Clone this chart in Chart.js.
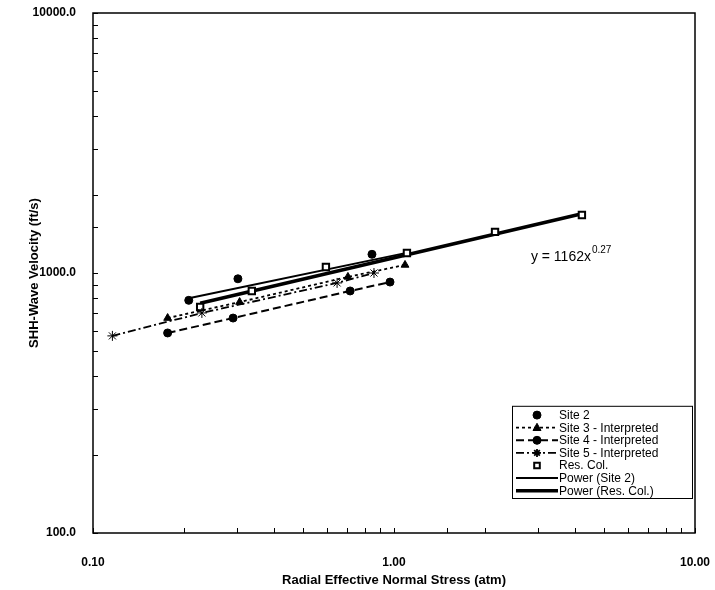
<!DOCTYPE html>
<html>
<head>
<meta charset="utf-8">
<script src="https://cdn.jsdelivr.net/npm/chart.js@4.4.1/dist/chart.umd.min.js"></script>
<style>
    html, body { margin: 0; padding: 0; background: #fff; }
    #wrap { width: 715px; height: 590px; }
</style>
</head>
<body>
<div id="wrap"><canvas id="chart" width="715" height="590"></canvas></div>
<script>
// values (stress in atm, velocity in ft/s)
const site2X = [0.208, 0.303, 0.845];
const site2Y = [785, 950, 1180];

const site3X = [0.177, 0.307, 0.703, 1.088];
const site3Y = [671, 773, 966, 1074];

const site4X = [0.177, 0.292, 0.715, 0.970];
const site4Y = [588, 671, 853, 923];

const site5X = [0.116, 0.230, 0.647, 0.858];
const site5Y = [573, 702, 916, 1000];

const resColX = [0.227, 0.337, 0.594, 1.104, 2.166, 4.21];
const resColY = [740, 853, 1055, 1194, 1439, 1671];

// trend line end points
const powerSite2X = [0.208, 1.10];
const powerSite2Y = [800, 1195];
const powerResColX = [0.227, 4.21];
const powerResColY = [765, 1690];

const xTickLabels = { 0.1: "0.10", 1: "1.00", 10: "10.00" };
const yTickLabels = { 100: "100.0", 1000: "1000.0", 10000: "10000.0" };

const equationText = "y = 1162x";
const equationExp = "0.27";
const equationAt = { x: 2.85, y: 1150 };

const FONT = '"Liberation Sans", Arial, sans-serif';

function toPoints(xs, ys) {
    return xs.map((x, i) => ({ x: x, y: ys[i] }));
}

function markerSet(style, radius, filled) {
    return {
        pointStyle: style,
        pointRadius: radius,
        pointHoverRadius: radius,
        pointBackgroundColor: filled ? "#000" : "#fff",
        pointBorderColor: "#000",
        pointBorderWidth: filled ? 1 : 2
    };
}

const datasets = [
    { label: "Site 2", data: toPoints(site2X, site2Y), showLine: false, ...markerSet("circle", 4, true) },
    { label: "Site 3 - Interpreted", data: toPoints(site3X, site3Y), showLine: true, borderColor: "#000", borderWidth: 1.8, borderDash: [3, 3], ...markerSet("triangle", 4.5, true) },
    { label: "Site 4 - Interpreted", data: toPoints(site4X, site4Y), showLine: true, borderColor: "#000", borderWidth: 2, borderDash: [8, 4], ...markerSet("circle", 4, true) },
    { label: "Site 5 - Interpreted", data: toPoints(site5X, site5Y), showLine: true, borderColor: "#000", borderWidth: 1.8, borderDash: [8, 3, 2, 3], ...markerSet("star", 5, true) },
    { label: "Res. Col.", data: toPoints(resColX, resColY), showLine: false, ...markerSet("rect", 4.5, false) },
    { label: "Power (Site 2)", data: toPoints(powerSite2X, powerSite2Y), showLine: true, borderColor: "#000", borderWidth: 2, pointRadius: 0 },
    { label: "Power (Res. Col.)", data: toPoints(powerResColX, powerResColY), showLine: true, borderColor: "#000", borderWidth: 3.5, pointRadius: 0 }
];
// markers above the trend lines
datasets.forEach((d, i) => { d.order = i < 5 ? 0 : 1; });

function isMajor(v) {
    const l = Math.log10(v);
    return Math.abs(l - Math.round(l)) < 1e-9;
}

function drawMarker(ctx, style, x, y, r, filled) {
    ctx.save();
    ctx.setLineDash([]);
    ctx.fillStyle = filled ? "#000" : "#fff";
    ctx.strokeStyle = "#000";
    ctx.lineWidth = filled ? 1 : 2;
    ctx.beginPath();
    if (style === "circle") {
        ctx.arc(x, y, r, 0, Math.PI * 2);
        ctx.fill(); ctx.stroke();
    } else if (style === "triangle") {
        ctx.moveTo(x, y - r * 1.1);
        ctx.lineTo(x + r, y + r * 0.7);
        ctx.lineTo(x - r, y + r * 0.7);
        ctx.closePath();
        ctx.fill(); ctx.stroke();
    } else if (style === "rect") {
        ctx.rect(x - r * 0.7, y - r * 0.7, r * 1.4, r * 1.4);
        ctx.fill(); ctx.stroke();
    } else if (style === "star") {
        ctx.lineWidth = 1.8;
        for (let k = 0; k < 4; k++) {
            const a = k * Math.PI / 4;
            ctx.moveTo(x - Math.cos(a) * r, y - Math.sin(a) * r);
            ctx.lineTo(x + Math.cos(a) * r, y + Math.sin(a) * r);
        }
        ctx.stroke();
    }
    ctx.restore();
}

const decorations = {
    id: "decorations",
    afterDraw(chart) {
        const ctx = chart.ctx;
        const area = chart.chartArea;
        const xs = chart.scales.x;
        const ys = chart.scales.y;

        ctx.save();
        // frame
        ctx.strokeStyle = "#000";
        ctx.lineWidth = 1.5;
        ctx.strokeRect(area.left, area.top, area.right - area.left, area.bottom - area.top);

        // inside tick marks
        ctx.lineWidth = 1;
        ctx.beginPath();
        xs.ticks.forEach(t => {
            const px = Math.round(xs.getPixelForValue(t.value)) + 0.5;
            ctx.moveTo(px, area.bottom);
            ctx.lineTo(px, area.bottom - 5);
        });
        ys.ticks.forEach(t => {
            const py = Math.round(ys.getPixelForValue(t.value)) + 0.5;
            ctx.moveTo(area.left, py);
            ctx.lineTo(area.left + 5, py);
        });
        ctx.stroke();

        // trend equation
        const ex = xs.getPixelForValue(equationAt.x);
        const ey = ys.getPixelForValue(equationAt.y);
        ctx.fillStyle = "#000";
        ctx.textBaseline = "middle";
        ctx.textAlign = "left";
        ctx.font = "14px " + FONT;
        ctx.fillText(equationText, ex, ey);
        const w = ctx.measureText(equationText).width;
        ctx.font = "10px " + FONT;
        ctx.fillText(equationExp, ex + w + 1, ey - 7);

        // legend box inside the plot, lower right
        const rowH = 12.6;
        const boxW = 180;
        const boxH = rowH * chart.data.datasets.length + 4;
        const bx = area.right - 183;
        const by = area.bottom - 35 - boxH;
        ctx.fillStyle = "#fff";
        ctx.fillRect(bx, by, boxW, boxH);
        ctx.lineWidth = 1;
        ctx.strokeStyle = "#000";
        ctx.strokeRect(bx + 0.5, by + 0.5, boxW, boxH);

        chart.data.datasets.forEach((d, i) => {
            const cy = by + 3 + rowH * i + rowH / 2;
            const x0 = bx + 4;
            const x1 = bx + 46;
            if (d.showLine) {
                ctx.save();
                ctx.strokeStyle = "#000";
                ctx.lineWidth = d.borderWidth;
                ctx.setLineDash(d.borderDash || []);
                ctx.beginPath();
                ctx.moveTo(x0, cy);
                ctx.lineTo(x1, cy);
                ctx.stroke();
                ctx.restore();
            }
            if (d.pointRadius > 0) {
                drawMarker(ctx, d.pointStyle, (x0 + x1) / 2, cy, Math.min(d.pointRadius, 4), d.pointBackgroundColor === "#000");
            }
            ctx.fillStyle = "#000";
            ctx.font = "12px " + FONT;
            ctx.textAlign = "left";
            ctx.fillText(d.label, x1 + 1, cy + 0.5);
        });
        ctx.restore();
    }
};

new Chart(document.getElementById("chart"), {
    type: "scatter",
    data: { datasets: datasets },
    plugins: [decorations],
    options: {
        responsive: false,
        animation: false,
        devicePixelRatio: 1,
        layout: { padding: { top: 13, right: 20, left: 0, bottom: 0 } },
        plugins: {
            legend: { display: false },
            tooltip: { enabled: false }
        },
        scales: {
            x: {
                type: "logarithmic",
                position: "bottom",
                min: 0.1,
                max: 10,
                grid: { display: false },
                border: { display: false },
                ticks: {
                    autoSkip: false,
                    maxRotation: 0,
                    padding: 14,
                    color: "#000",
                    font: { family: FONT, size: 12, weight: "bold" },
                    callback: v => isMajor(v) ? (xTickLabels[Math.round(v * 10) / 10] || "") : ""
                },
                title: {
                    display: true,
                    text: "Radial Effective Normal Stress (atm)",
                    color: "#000",
                    font: { family: FONT, size: 13, weight: "bold" },
                    padding: { top: 0, bottom: 2 }
                },
                afterFit: s => { s.height = 57; s.paddingLeft = 0; s.paddingRight = 0; }
            },
            y: {
                type: "logarithmic",
                min: 100,
                max: 10000,
                grid: { display: false },
                border: { display: false },
                ticks: {
                    autoSkip: false,
                    padding: 9,
                    color: "#000",
                    font: { family: FONT, size: 12, weight: "bold" },
                    callback: v => isMajor(v) ? (yTickLabels[Math.round(v)] || "") : ""
                },
                title: {
                    display: true,
                    text: "SHH-Wave Velocity (ft/s)",
                    color: "#000",
                    font: { family: FONT, size: 13, weight: "bold" },
                    padding: { top: 27, bottom: 0 }
                },
                afterFit: s => { s.width = 93; s.paddingTop = 0; s.paddingBottom = 0; }
            }
        }
    }
});
</script>
</body>
</html>
